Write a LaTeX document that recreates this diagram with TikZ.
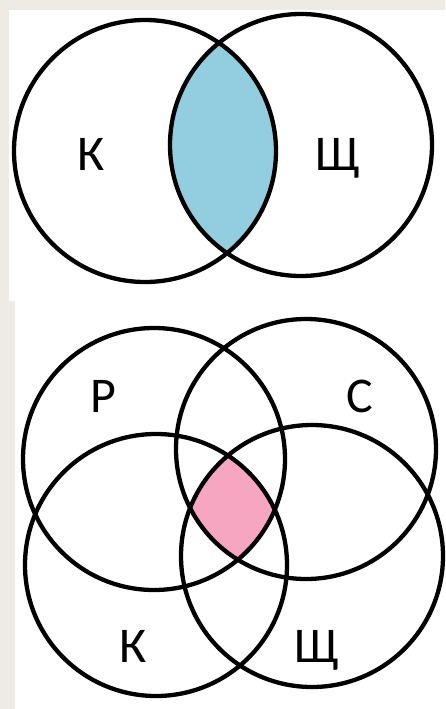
\documentclass[tikz,border=0pt]{standalone}
\usepackage{fontspec}
\setmainfont{Carlito}
\usepackage{tikz}
\usetikzlibrary{backgrounds}
\definecolor{pagebeige}{RGB}{238,235,228}
\definecolor{lensblue}{RGB}{146,206,223}
\definecolor{corepink}{RGB}{247,166,194}

\begin{document}
\begin{tikzpicture}[x=1pt,y=-1pt,
    ring/.style={draw=black,line width=4.3pt},
    lbl/.style={anchor=base,inner sep=0pt,font=\fontsize{50}{60}\selectfont}]
    \useasboundingbox (0,0) rectangle (445,709);
    \fill[pagebeige] (0,0) rectangle (445,709);
    \fill[white] (9,10) rectangle (445,301);
    \fill[white] (15,301) rectangle (445,709);
    % upper diagram
    \coordinate (ka) at (145,151);
    \coordinate (sha) at (301,145);
    \begin{scope}
    \clip (ka) circle[radius=131pt];
    \fill[lensblue] (sha) circle[radius=131pt];
    \end{scope}
    \draw[ring] (ka) circle[radius=131pt];
    \draw[ring] (sha) circle[radius=131pt];
    \node[lbl] (ka-lbl) at (91,170) {К};
    \node[lbl] (sha-lbl) at (338,170) {Щ};
    % lower diagram
    \coordinate (r) at (154,459);
    \coordinate (s) at (306,449);
    \coordinate (kb) at (156,565);
    \coordinate (shb) at (312,556);
    \begin{scope}
    \clip (r) circle[radius=131pt];
    \clip (s) circle[radius=130pt];
    \clip (kb) circle[radius=131pt];
    \fill[corepink] (shb) circle[radius=131pt];
    \end{scope}
    \draw[ring] (r) circle[radius=131pt];
    \draw[ring] (s) circle[radius=130pt];
    \draw[ring] (kb) circle[radius=131pt];
    \draw[ring] (shb) circle[radius=131pt];
    \node[lbl] (r-lbl) at (103,412) {Р};
    \node[lbl] (s-lbl) at (360,412) {С};
    \node[lbl] (kb-lbl) at (133,662) {К};
    \node[lbl] (shb-lbl) at (317,662) {Щ};
\end{tikzpicture}
\end{document}
